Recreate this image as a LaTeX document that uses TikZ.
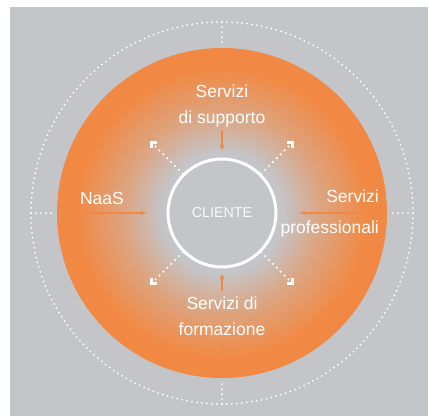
\documentclass[tikz,border=0pt]{standalone}
\usepackage{fontspec}
\setmainfont{Liberation Sans}
\usepackage{tikz}
\usetikzlibrary{arrows.meta, positioning}
\definecolor{ringorange}{RGB}{241, 137, 68}
\definecolor{bggray}{RGB}{196, 197, 201}
\pgfdeclareradialshading{ringfade}{\pgfpoint{0bp}{0bp}}{color(0bp)=(bggray); color(9bp)=(bggray); color(15bp)=(bggray!45!ringorange); color(22bp)=(ringorange); color(50bp)=(ringorange)}

\begin{document}
\begin{tikzpicture}[x=1pt, y=1pt,
  lbl/.style={text=white, inner sep=0pt, font=\fontsize{17.5}{26}\selectfont},
  hub/.style={circle, draw=white, line width=3pt, fill=bggray, minimum size=108pt, inner sep=0pt,
    text=white!92!bggray, font=\fontsize{14.3}{16}\selectfont},
  feed/.style={ringorange, line width=1.6pt},
  tip/.style={-{Latex[length=6pt, width=5pt]}},
  dotline/.style={white, line width=2pt, line cap=round, dash pattern=on 0pt off 5pt},
  spread/.style={dotline, line width=2.4pt, dash pattern=on 0pt off 5.5pt,
    -{Straight Barb[angle=90:5.5pt, line width=3pt]}}]
  \useasboundingbox (-222,-203) rectangle (207,213);
  % background and outer ring
  \fill[bggray] (-212,-203) rectangle (206,206);
  \draw[dotline] (0,0) circle (191);
  \foreach \a in {0,90,180,270}
    \draw[dotline] (\a:171) -- (\a:191);
  % orange disc
  \shade[shading=ringfade] (0,0) circle (165);
  \foreach \a/\n in {0/E, 90/N, 180/W, 270/S}
    \coordinate (edge\n) at (\a:165);

  \node[hub] (cliente) at (0,0) {CLIENTE};
  \node[lbl, align=center] (supporto) at (0,107.4) {Servizi\\di supporto};
  \node[lbl, align=center] (formazione) at (0,-103.6) {Servizi di\\formazione};
  \node[lbl, anchor=base] (naas) at (-120,9) {NaaS};
  \node[lbl, align=right, anchor=east] (professionali) at (157,0) {Servizi\\[5pt]professionali};

  % services towards the client
  \draw[feed, shorten >=2.5pt] (edgeN) -- (supporto.north);
  \draw[feed, tip, shorten <=3.3pt, shorten >=6.5pt] (supporto) -- (cliente);
  \draw[feed, shorten >=5.3pt] (edgeS) -- (formazione.south);
  \draw[feed, tip, shorten <=5.5pt, shorten >=4.5pt] (formazione) -- (cliente);
  \draw[feed, tip, shorten >=19.5pt] (edgeW) -- (cliente);
  \draw[feed, tip, shorten >=22pt] (edgeE) -- (cliente);

  % client outwards
  \foreach \a in {45,135,225,315} {
    \coordinate (out\a) at (\a:102);
    \draw[spread] (cliente.\a) -- (out\a);
  }
\end{tikzpicture}
\end{document}
